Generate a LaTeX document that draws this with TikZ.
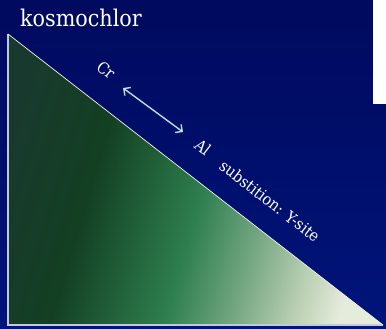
\documentclass[tikz,border=0pt]{standalone}
\usepackage{fontspec}
\setmainfont{DejaVu Serif Condensed}
\usetikzlibrary{arrows.meta}
\definecolor{bgtop}{HTML}{000A5E}
\definecolor{bgbot}{HTML}{00147A}
\definecolor{ga}{HTML}{183A2E}
\definecolor{gb}{HTML}{133F22}
\definecolor{gc}{HTML}{2E7F4F}
\definecolor{gd}{HTML}{6FA47E}
\definecolor{ge}{HTML}{BCD0B4}
\definecolor{gf}{HTML}{E6ECDC}
\definecolor{arrowcol}{HTML}{B4E0EA}
\definecolor{edgecol}{HTML}{C4C8DC}
\pgfdeclarehorizontalshading{trishade}{100bp}{color(0bp)=(ga); color(23bp)=(ga); color(36bp)=(gb); color(51.5bp)=(gc); color(60bp)=(gd); color(69bp)=(ge); color(75bp)=(gf); color(100bp)=(gf)}
\tikzset{
  lbl/.style={text=white, inner sep=0pt, font=\fontsize{16}{19}\selectfont},
  dblarrow/.style={draw=arrowcol, line width=1.4pt, {Straight Barb[length=5pt,width=10pt]}-{Straight Barb[length=5pt,width=10pt]}}
}
\begin{document}
\begin{tikzpicture}[x=1pt,y=-1pt]
\useasboundingbox (0,0) rectangle (386,329);
\shade[top color=bgtop, bottom color=bgbot] (0,0) rectangle (386,329);
\fill[white] (373,0) rectangle (386,104);
\coordinate (A) at (8,34);
\coordinate (B) at (8,325);
\coordinate (C) at (383,325);
\shade[shading=trishade, shading angle=-16.6] (A) -- (B) -- (C) -- cycle;
\draw[edgecol, line width=1.2pt] (A) -- (B) -- (C);
\draw[white!90!gray, line width=0.7pt] (A) -- (C);
\node[lbl, anchor=base west, font=\fontsize{23}{28}\selectfont] (title) at (20,27) {kosmochlor};
\node[lbl, rotate=-37.8] (cr) at (106,70) {Cr};
\coordinate (a1) at (123,88);
\coordinate (a2) at (183,132);
\draw[dblarrow] (a1) -- (a2);
\node[lbl, rotate=-37.8] (al) at (203,147) {Al};
\node[lbl, rotate=-37.8] (sub) at (270,201) {substition: Y-site};
\end{tikzpicture}
\end{document}
